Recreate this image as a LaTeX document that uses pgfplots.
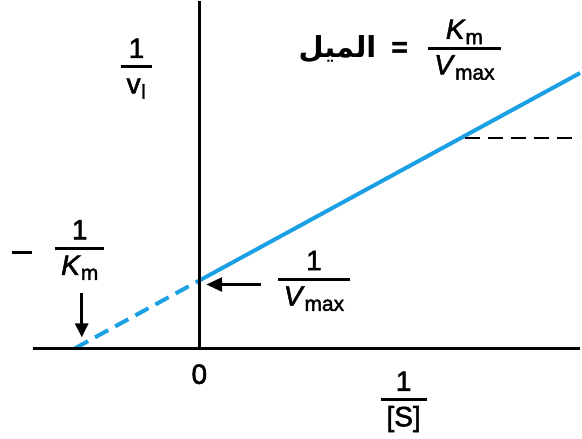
\documentclass[border=0pt]{standalone}
\usepackage{fontspec}
\setmainfont{Liberation Sans}[FakeBold=2]
\newfontfamily\arabicfont[Script=Arabic]{DejaVu Sans}
\TeXXeTstate=1
\usepackage{pgfplots}
\pgfplotsset{compat=1.18}
\usetikzlibrary{arrows.meta}
\definecolor{lbline}{RGB}{28,160,228}

% lowered, slightly smaller subscript in the text font
\newcommand{\sub}[1]{\raisebox{-0.35ex}{\fontsize{10.5}{10.5}\selectfont #1}}
% stacked fraction with a heavy rule
\newcommand{\fr}[2]{{\setlength{\arrayrulewidth}{1.5pt}%
  \begin{tabular}{@{\hspace{3pt}}c@{\hspace{3pt}}}#1\\[-1pt]\hline\rule{0pt}{12.5pt}#2\end{tabular}}}

\begin{document}
\begin{tikzpicture}[every node/.style={font=\fontsize{14}{16}\selectfont, inner sep=0pt}]
\begin{axis}[
  x=0.5pt, y=0.5pt,
  xmin=-200, xmax=382, ymin=-91, ymax=348,
  hide axis, clip=false, scale only axis,
]
\path (rel axis cs:0,0) rectangle (rel axis cs:1,1);

% Lineweaver-Burk line: extrapolated part and measured part
\addplot[lbline, line width=2pt, dash pattern=on 7.5pt off 4pt] coordinates {(-124.8,0) (0,68)};
\addplot[lbline, line width=2pt] coordinates {(0,68) (382,276.2)};
% slope triangle edge
\addplot[black, line width=1.4pt, dash pattern=on 7.5pt off 4pt] coordinates {(267,211) (382,211)};

% axes
\draw[line width=1.5pt] (axis cs:-167,0) -- (axis cs:382,0);
\draw[line width=1.5pt] (axis cs:0,0) -- (axis cs:0,348);

% labels
\node at (axis cs:-63,280) {\fr{1}{v\sub{I}}};
\node[anchor=east] at (axis cs:178,300) {\arabicfont\bfseries\fontsize{14.5}{17}\selectfont\beginR الميل\endR};
\node at (axis cs:201,300) {\textbf{=}};
\node at (axis cs:266,299) {\fr{\textit{K}\sub{m}}{\textit{V}\sub{max}}};

\node at (axis cs:-178,96) {\rule{10pt}{1.6pt}};
\node at (axis cs:-120,98) {\fr{1}{\textit{K}\sub{m}}};
\draw[-{Triangle[length=7pt,width=6.5pt]}, line width=1.5pt] (axis cs:-118,55) -- (axis cs:-118,11);

\draw[-{Triangle[length=8pt,width=7pt]}, line width=1.5pt] (axis cs:62,64) -- (axis cs:7,64);
\node at (axis cs:115,67) {\fr{1}{\textit{V}\sub{max}}};

\node at (axis cs:0,-26) {0};
\node at (axis cs:205,-54) {\fr{1}{[S]}};
\end{axis}
\end{tikzpicture}
\end{document}
